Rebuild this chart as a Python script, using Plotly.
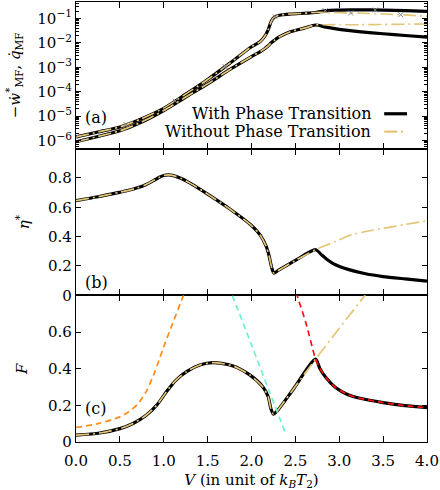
import numpy as np
import plotly.graph_objects as go
from plotly.subplots import make_subplots

# ---------------- data ----------------
# panel (a): log10 of heat current q_MF (upper) and power -w_MF (lower)
V_a_shared = [0, 0.25, 0.5, 0.75, 1.0, 1.25, 1.5, 1.75, 2.0, 2.1, 2.15, 2.19,
              2.225, 2.26, 2.32, 2.45, 2.6, 2.73]
logq_shared = [-5.85, -5.65, -5.44, -5.1, -4.68, -4.1, -3.5, -2.84, -2.16, -1.95,
               -1.74, -1.47, -1.12, -0.95, -0.87, -0.82, -0.79, -0.76]
logw_shared = [-6.05, -5.83, -5.6, -5.24, -4.77, -4.22, -3.68, -3.1, -2.56, -2.36,
               -2.24, -2.12, -2.0, -1.9, -1.75, -1.54, -1.4, -1.27]
V_a_after = [2.85, 3.0, 3.25, 3.5, 3.75, 4.0]
logq_with_after = [-0.68, -0.66, -0.65, -0.66, -0.68, -0.71]
logq_without_after = [-0.76, -0.77, -0.79, -0.82, -0.86, -0.91]
logw_with_after = [-1.36, -1.45, -1.55, -1.63, -1.7, -1.77]
logw_without_after = [-1.26, -1.26, -1.26, -1.25, -1.24, -1.23]
# simulation points (x markers)
sim_V_with = [0.0, 0.57, 1.13, 1.70, 2.27, 2.84, 3.41]
sim_V_without = [3.13, 3.70]

# panel (b): efficiency eta*
V_b_shared = [0, 0.25, 0.5, 0.6, 0.7, 0.8, 0.9, 0.95, 1.0, 1.05, 1.1, 1.2, 1.3, 1.5,
              1.75, 2.0, 2.1, 2.17, 2.2, 2.23, 2.255, 2.3, 2.5, 2.73]
eta_shared = [0.646, 0.672, 0.703, 0.716, 0.733, 0.756, 0.788, 0.805, 0.817, 0.821,
              0.818, 0.797, 0.765, 0.69, 0.59, 0.476, 0.41, 0.33, 0.27, 0.19, 0.152,
              0.168, 0.238, 0.311]
V_b_after = [2.8, 2.85, 2.95, 3.1, 3.3, 3.5, 3.75, 4.0]
eta_with_after = [0.275, 0.25, 0.21, 0.177, 0.147, 0.128, 0.112, 0.097]
eta_without_after = [0.33, 0.342, 0.365, 0.405, 0.435, 0.456, 0.483, 0.508]

# panel (c): F
V_c_shared = [0, 0.27, 0.5, 0.65, 0.8, 0.92, 1.03, 1.14, 1.26, 1.41, 1.56, 1.79, 1.98,
              2.13, 2.19, 2.22, 2.25, 2.3, 2.47, 2.73]
F_shared = [0.037, 0.049, 0.073, 0.101, 0.146, 0.201, 0.274, 0.338, 0.384, 0.42, 0.433,
            0.415, 0.366, 0.30, 0.247, 0.183, 0.152, 0.174, 0.284, 0.452]
V_c_after = [2.78, 2.85, 2.95, 3.1, 3.25, 3.5, 3.75, 4.0]
F_with_after = [0.40, 0.35, 0.30, 0.258, 0.237, 0.215, 0.198, 0.187]
V_c_without_after = [3.0, 3.3, 3.45]
F_without_after = [0.62, 0.805, 0.90]
V_orange = [0, 0.25, 0.5, 0.6, 0.7, 0.8, 0.9, 1.0, 1.1, 1.2, 1.3]
F_orange = [0.079, 0.100, 0.137, 0.165, 0.205, 0.275, 0.385, 0.52, 0.645, 0.77, 0.89]
V_cyan = [1.74, 2.0, 2.2, 2.39]
F_cyan = [0.85, 0.53, 0.28, 0.046]
V_red = [2.48, 2.52, 2.62, 2.71]
F_red = [0.87, 0.80, 0.649, 0.485]

x_ticks = [0, 0.5, 1.0, 1.5, 2.0, 2.5, 3.0, 3.5, 4.0]
x_ticktext = ["0.0", "0.5", "1.0", "1.5", "2.0", "2.5", "3.0", "3.5", "4.0"]
loga_ticks = [-6, -5, -4, -3, -2, -1]
b_ticks = [0, 0.2, 0.4, 0.6, 0.8]
b_ticktext = ["0", "0.2", "0.4", "0.6", "0.8"]
c_ticks = [0, 0.2, 0.4, 0.6]
c_ticktext = ["0", "0.2", "0.4", "0.6"]

# ---------------- styling ----------------
FONT = "DejaVu Serif"
BLACK_W = 3.2
TAN = "#e3c677"
TAN_W = 1.7
TAN_DASH = "13px,4px,2px,4px"
SM = 0.7

fig = make_subplots(rows=3, cols=1, shared_xaxes=True, vertical_spacing=0)


def with_without(row, xs, ys_with, ys_without_x, ys_without):
    fig.add_trace(go.Scatter(x=xs, y=ys_with, mode="lines",
                             line=dict(color="black", width=BLACK_W, shape="spline", smoothing=SM),
                             showlegend=False, hoverinfo="skip"), row=row, col=1)
    fig.add_trace(go.Scatter(x=ys_without_x, y=ys_without, mode="lines",
                             line=dict(color=TAN, width=TAN_W, dash=TAN_DASH, shape="spline", smoothing=SM),
                             showlegend=False, hoverinfo="skip"), row=row, col=1)


# panel (a)
qa_with = [10 ** v for v in logq_shared + logq_with_after]
qa_without = [10 ** v for v in logq_shared + logq_without_after]
wa_with = [10 ** v for v in logw_shared + logw_with_after]
wa_without = [10 ** v for v in logw_shared + logw_without_after]
Va = V_a_shared + V_a_after
with_without(1, Va, qa_with, Va, qa_without)
with_without(1, Va, wa_with, Va, wa_without)
sim_q_with = 10 ** np.interp(sim_V_with, Va, logq_shared + logq_with_after)
sim_q_without = 10 ** np.interp(sim_V_without, Va, logq_shared + logq_without_after)
fig.add_trace(go.Scatter(x=sim_V_with + sim_V_without,
                         y=list(sim_q_with) + list(sim_q_without), mode="markers",
                         marker=dict(symbol="x-thin", size=5, line=dict(color="#8a8a8a", width=1)),
                         showlegend=False, hoverinfo="skip"), row=1, col=1)

# panel (b)
with_without(2, V_b_shared + V_b_after, eta_shared + eta_with_after,
             V_b_shared + V_b_after, eta_shared + eta_without_after)

# panel (c)
with_without(3, V_c_shared + V_c_after, F_shared + F_with_after,
             V_c_shared + V_c_without_after, F_shared + F_without_after)
fig.add_trace(go.Scatter(x=V_orange, y=F_orange, mode="lines",
                         line=dict(color="#ff8c1a", width=1.7, dash="6px,4px", shape="spline", smoothing=SM),
                         showlegend=False, hoverinfo="skip"), row=3, col=1)
fig.add_trace(go.Scatter(x=V_cyan, y=F_cyan, mode="lines",
                         line=dict(color="#6ff0cc", width=1.7, dash="6px,4px", shape="spline", smoothing=0.4),
                         showlegend=False, hoverinfo="skip"), row=3, col=1)
fig.add_trace(go.Scatter(x=V_red + [V_c_shared[-1]] + V_c_after,
                         y=F_red + [F_shared[-1]] + F_with_after, mode="lines",
                         line=dict(color="#ff1010", width=1.7, dash="6px,4px", shape="spline", smoothing=SM),
                         showlegend=False, hoverinfo="skip"), row=3, col=1)

# ---------------- axes ----------------
common = dict(showline=True, linecolor="black", linewidth=1.2, mirror="allticks",
              ticks="inside", tickwidth=1.1, tickcolor="black", showgrid=False,
              zeroline=False, ticklabeloverflow="allow",
              tickfont=dict(family=FONT, size=15, color="black"))
for i in (1, 2, 3):
    fig.update_xaxes(row=i, col=1, range=[0, 4], tickvals=x_ticks, ticktext=x_ticktext,
                     ticklen=6, ticklabelstandoff=5, **common)
fig.update_xaxes(row=3, col=1, showticklabels=True,
                 title=dict(text="<i>V</i> (in unit of <i>k<sub>B</sub>T</i><sub>2</sub>)",
                            font=dict(family=FONT, size=15, color="black"), standoff=7))

minor_vals = [m * 10 ** e for e in range(-7, 0) for m in range(2, 10)]
fig.update_yaxes(row=1, col=1, type="log", range=[-6.33, -0.33],
                 tickvals=[10 ** e for e in loga_ticks],
                 ticktext=["10<sup>\u2212%d</sup>" % (-e) for e in loga_ticks],
                 ticklen=5,
                 minor=dict(tickvals=minor_vals, ticks="inside", ticklen=3, tickcolor="black", tickwidth=1),
                 title=dict(text="\u2212<i>\u1e87</i><sup>*</sup><sub>MF</sub>, <i>q\u0307</i><sub>MF</sub>",
                            font=dict(family=FONT, size=15, color="black"), standoff=13),
                 domain=[2 / 3, 1], **common)
fig.update_yaxes(row=2, col=1, range=[0, 1.0], tickvals=b_ticks, ticktext=b_ticktext, ticklen=5,
                 title=dict(text="<i>\u03b7</i><sup>*</sup>", font=dict(family=FONT, size=15, color="black"),
                            standoff=14),
                 domain=[1 / 3, 2 / 3], **common)
fig.update_yaxes(row=3, col=1, range=[0, 0.8], tickvals=c_ticks, ticktext=c_ticktext, ticklen=5,
                 title=dict(text="<i>F</i>", font=dict(family=FONT, size=15, color="black"), standoff=16),
                 domain=[0, 1 / 3], **common)

# ---------------- panel labels & legend ----------------
lab_font = dict(family=FONT, size=16, color="black")
for txt, xref, yref, yv in (("(a)", "x domain", "y domain", 0.21),
                            ("(b)", "x2 domain", "y2 domain", 0.09),
                            ("(c)", "x3 domain", "y3 domain", 0.23)):
    fig.add_annotation(text=txt, xref=xref, yref=yref, x=0.02, y=yv, xanchor="left",
                       yanchor="middle", showarrow=False, font=lab_font)

legend_rows = [("With Phase Transition", 0.238, "black", BLACK_W, "solid"),
               ("Without Phase Transition", 0.116, TAN, TAN_W + 0.6, TAN_DASH)]
for txt, yv, col, w, dash in legend_rows:
    fig.add_annotation(text=txt, xref="x domain", yref="y domain", x=0.846, y=yv,
                       xanchor="right", yanchor="middle", showarrow=False, font=lab_font)
    fig.add_shape(type="line", xref="x domain", yref="y domain", x0=0.878, x1=0.943,
                  y0=yv, y1=yv, line=dict(color=col, width=w, dash=dash))

fig.update_layout(width=440, height=490, margin=dict(l=76, r=11, t=1, b=48),
                  plot_bgcolor="white", paper_bgcolor="white",
                  font=dict(family=FONT, size=15, color="black"), showlegend=False)

fig.write_html("out.html", config={"displayModeBar": False},
               post_script="document.body.style.margin='0';")
